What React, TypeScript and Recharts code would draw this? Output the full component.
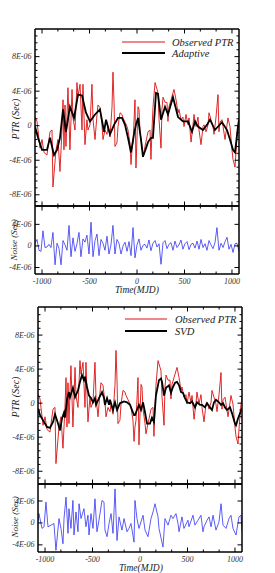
import React from 'react';
import { LineChart, Line, XAxis, YAxis } from 'recharts';

// ---------- data (PTR values in units of 1E-06 s, time in MJD) ----------
const obsTime = [-1074,-1053,-1021,-1000,-979,-948,-916,-895,-885,-853,-832,-811,-790,-779,-769,-758,-748,-727,-706,-684,-674,-653,-632,-621,-600,-579,-569,-548,-527,-516,-495,-474,-463,-442,-421,-411,-390,-369,-358,-337,-316,-305,-284,-263,-253,-242,-232,-211,-200,-179,-158,-147,-126,-105,-95,-74,-63,-53,-42,-21,-11,11,21,32,53,63,84,105,116,137,147,158,168,190,211,221,232,253,263,274,295,316,326,337,358,379,390,411,432,442,463,484,495,516,537,548,569,590,600,621,642,653,674,695,706,727,748,758,779,800,811,832,853,863,874,895,906,927,948,958,979,1000,1011,1032,1053,1063,1074];
const obsPtr = [1.0,0.5,-2.6,-1.6,-3.1,-3.4,-0.7,-0.5,-7.1,-2.8,-1.6,-5.3,-0.5,3.0,-2.8,2.4,-2.4,4.4,-2.8,4.2,0.9,-0.5,5.0,3.4,4.8,-0.5,4.8,-2.2,0.7,-0.5,0.1,4.8,0.7,-1.6,1.3,2.4,2.1,0.1,-1.6,-0.5,-1.0,-0.1,-1.3,2.2,6.2,2.7,-2.4,-2.0,-0.1,1.5,1.3,0.9,0.4,-0.1,-0.5,-2.0,-4.5,-2.8,-2.0,3.0,-4.9,2.2,1.9,-0.7,-2.4,-3.6,-2.4,-1.3,-0.7,-0.5,-3.9,-0.5,2.1,5.0,4.2,3.8,0.7,-2.6,1.9,3.3,2.7,2.7,0.5,2.2,3.0,3.8,4.2,3.0,1.5,1.9,0.7,1.0,-0.1,1.3,0.1,0.9,-1.9,0.1,1.3,-0.1,1.0,-0.5,-2.2,-0.1,0.1,-0.7,0.1,1.5,0.7,-0.1,-1.0,1.0,3.6,-0.7,0.4,0.7,-0.1,-1.6,0.1,0.9,-0.1,-2.8,-3.9,-4.8,-1.3,-0.2,0.7];

const adaptiveTime = [-1074,-1042,-1000,-948,-916,-874,-842,-811,-779,-748,-706,-663,-621,-579,-537,-495,-442,-390,-347,-326,-284,-242,-200,-158,-126,-95,-63,-32,-11,11,42,63,95,116,147,168,200,221,253,295,326,379,432,484,537,579,611,642,695,737,769,821,895,948,979,1011,1032,1063,1074];
const adaptivePtr = [-0.1,-1.4,-2.8,-2.8,-1.4,-3.4,-2.8,-1.4,1.9,-0.7,2.2,0.9,3.6,3.5,1.5,0.5,1.3,1.9,-0.7,0.7,-1.0,0.1,0.9,0.9,0.1,-1.4,-3.1,-1.0,0.1,0.9,-1.6,-3.6,-2.6,-1.9,-1.4,-1.4,3.8,3.7,0.7,2.2,1.3,3.3,1.0,0.5,0.5,-0.7,0.5,-0.1,-0.5,0.1,0.7,-0.5,0.4,-0.5,-1.6,-2.8,-3.1,-0.1,0.7];

const svdTime = [-1074,-1053,-1011,-979,-948,-916,-895,-863,-842,-821,-800,-790,-769,-748,-737,-706,-684,-653,-632,-611,-590,-579,-558,-537,-516,-495,-474,-463,-432,-400,-379,-369,-347,-326,-316,-284,-263,-242,-211,-190,-168,-137,-105,-84,-63,-53,-32,-11,11,32,53,74,105,126,147,168,200,221,232,253,274,305,326,347,369,390,411,432,453,474,495,526,548,579,600,632,653,684,706,737,758,779,800,832,853,874,895,916,948,969,1000,1011,1032,1053,1074];
const svdPtr = [-0.6,-1.4,-2.2,-2.8,-2.9,-2.2,-1.3,-2.4,-3.2,-1.8,-1.1,-1.7,0.4,1.3,0.7,1.8,0.7,1.5,2.5,3.3,2.7,3.1,1.9,0.9,0.6,0.1,0.6,-0.2,0.6,1.3,0.6,-0.2,0.6,-0.2,0.4,-0.8,0.1,-0.8,0.0,0.1,0.2,0.1,-0.2,-0.8,-1.4,-1.4,-0.8,-0.2,-0.8,0.1,-1.1,-2.4,-2.4,-1.7,-2.2,0.9,2.7,2.9,2.5,0.9,1.8,2.1,1.2,1.9,2.4,2.5,2.1,1.3,1.2,0.6,0.1,0.0,0.2,-0.5,0.1,-0.2,-0.2,-0.5,0.0,-0.5,-0.8,0.1,0.4,0.1,-0.2,0.0,-0.5,-0.8,-0.5,-1.2,-2.4,-2.6,-1.8,-1.2,-0.6];

const noise1Time = [-1074,-1053,-1032,-1011,-990,-969,-948,-927,-906,-885,-863,-842,-821,-800,-779,-758,-737,-716,-695,-674,-653,-632,-611,-590,-569,-548,-527,-505,-484,-463,-442,-421,-400,-379,-358,-337,-316,-295,-274,-253,-232,-211,-190,-168,-147,-126,-105,-84,-63,-42,-21,0,21,42,63,84,105,126,147,168,190,211,232,253,274,295,316,337,358,379,400,421,442,463,484,505,527,548,569,590,611,632,653,674,695,716,737,758,779,800,821,842,863,885,906,927,948,969,990,1011,1032,1053,1074];
const noise1Val = [0.5,1.2,-0.8,-1.0,2.8,-0.3,-0.2,0.3,-0.3,2.5,-3.5,0.5,-0.5,-3.5,1.0,0.2,-0.8,3.8,-2.0,1.5,-1.0,0.4,2.5,-2.0,1.3,0.7,2.0,-1.5,4.4,-2.0,1.0,2.2,-1.8,1.2,0.5,-0.8,1.8,-1.5,0.2,3.8,-1.5,1.2,0.5,-1.5,0.0,0.7,-1.0,0.8,-1.8,3.4,-2.2,0.2,1.3,-0.8,0.1,0.3,-0.4,1.1,-0.9,0.5,1.0,-0.2,0.4,-3.4,0.6,1.0,-0.5,0.3,0.6,-0.8,0.9,-0.3,0.2,1.1,-0.6,0.4,0.8,-0.7,0.3,0.5,-0.4,0.9,-0.6,1.2,-0.3,0.4,-0.8,1.0,0.2,-0.5,0.6,3.4,-0.8,0.5,-0.3,0.8,1.6,-0.6,0.3,-1.2,0.4,0.5,-1.0];

const noise2Time = [-1074,-1064,-1032,-1011,-990,-969,-937,-906,-885,-853,-832,-811,-800,-779,-758,-748,-727,-706,-695,-674,-653,-642,-621,-590,-569,-548,-537,-516,-495,-474,-453,-432,-400,-379,-369,-347,-326,-305,-284,-263,-242,-221,-190,-168,-137,-116,-95,-63,-53,-32,-11,32,53,84,116,137,158,190,200,242,263,295,326,347,379,400,411,442,463,505,516,558,579,611,642,663,674,706,727,748,769,800,832,853,874,906,937,958,979,1011,1042,1063,1074];
const noise2Val = [0.4,1.7,-1.0,-0.7,3.8,-0.7,-0.4,-0.1,-5.0,0.8,-1.0,-3.8,0.8,4.7,-1.9,2.6,-1.0,4.1,-2.2,2.0,-1.6,3.5,0.8,2.6,-0.7,1.4,-2.2,1.7,-1.0,4.4,-1.6,0.5,4.1,3.8,-1.3,-2.5,-0.1,1.7,-1.9,6.2,-3.2,1.1,-1.3,0.8,-1.6,-1.0,-0.1,-3.5,4.1,0.8,-1.0,1.4,-1.3,-2.5,0.8,2.0,3.5,1.1,-1.0,-4.4,0.8,-0.4,1.4,0.8,1.7,-0.1,-1.6,1.1,-1.0,0.5,-0.7,1.4,-0.4,0.5,1.4,-1.6,-0.7,0.5,1.1,-0.7,1.4,-1.3,0.2,3.5,-0.4,-1.0,0.8,1.4,-1.0,-2.2,1.1,1.4,-1.6];

const xMajorTicks = [-1000, -500, 0, 500, 1000];
const xMinorTicks = [-833, -667, -333, -167, 167, 333, 667, 833];
const yMainMajorTicks = [-8, -4, 0, 4, 8];
const yMainMinorTicks = [-8.8, -7.2, -6.4, -5.6, -4.8, -3.2, -2.4, -1.6, -0.8, 0.8, 1.6, 2.4, 3.2, 4.8, 5.6, 6.4, 7.2, 8.8, 9.6, 10.4];
const yNoiseTicks = [-4, 0, 4];

// ---------- helpers ----------
const W = 275;
const X_DOMAIN: [number, number] = [-1074, 1074];
const SERIF = '"Liberation Serif", "DejaVu Serif", serif';
const RED = '#dd1010';
const BLUE = '#3434f4';

const pairs = (t: number[], v: number[]) => t.map((tt, i) => ({ t: tt, v: v[i] }));
const obsData = pairs(obsTime, obsPtr);
const adaptiveData = pairs(adaptiveTime, adaptivePtr);
const svdData = pairs(svdTime, svdPtr);
const noise1Data = pairs(noise1Time, noise1Val);
const noise2Data = pairs(noise2Time, noise2Val);

const fmtY = (v: number) => (v === 0 ? '0' : `${v < 0 ? '-' : ''}${Math.abs(v)}E-06`);
const isMajorX = (v: number) => xMajorTicks.includes(v);
const isMajorY = (v: number) => Math.abs(v - Math.round(v / 4) * 4) < 1e-6;

const XTickShape = (props: any) => {
  const { x, y, payload, side, showLabel } = props;
  const v = payload.value;
  const major = isMajorX(v);
  const len = major ? 4.5 : 2.5;
  const dir = side === 'bottom' ? -1 : 1;
  return (
    <g>
      <line x1={x} x2={x} y1={y} y2={y + dir * len} stroke="#000" strokeWidth={1} />
      {showLabel && major && (
        <text x={x} y={y + 10} textAnchor="middle" fontFamily={SERIF} fontStyle="italic" fontSize={8} fill="#333">
          {v}
        </text>
      )}
    </g>
  );
};

const YTickShape = (props: any) => {
  const { x, y, payload, side, showLabel } = props;
  const v = payload.value;
  const major = isMajorY(v);
  const len = major ? 4.5 : 2.5;
  const dir = side === 'left' ? 1 : -1;
  return (
    <g>
      <line x1={x} x2={x + dir * len} y1={y} y2={y} stroke="#000" strokeWidth={1} />
      {showLabel && major && (
        <text x={x - 3.5} y={y} textAnchor="end" dominantBaseline="central" fontFamily={SERIF} fontStyle="italic" fontSize={8} fill="#333">
          {fmtY(v)}
        </text>
      )}
    </g>
  );
};

type Series = { data: { t: number; v: number }[]; color: string; width: number };

function Panel(props: {
  plotTop: number; plotBottom: number; plotLeft: number; plotRight: number;
  yDomain: [number, number]; yTicks: number[]; xLabels: boolean; series: Series[];
}) {
  const { plotTop, plotBottom, plotLeft, plotRight, yDomain, yTicks, xLabels, series } = props;
  const padTop = 8;
  const padBottom = 22;
  const height = plotBottom - plotTop + padTop + padBottom;
  const axisLine = { stroke: '#000', strokeWidth: 1.5 };
  const xTicks = [...xMajorTicks, ...xMinorTicks].sort((a, b) => a - b);
  return (
    <div style={{ position: 'absolute', left: 0, top: plotTop - padTop, width: W, height }}>
      <LineChart width={W} height={height}
        margin={{ top: padTop - 1, bottom: padBottom - 1, left: plotLeft - 1, right: W - plotRight - 1 }}>
        <XAxis xAxisId="b" type="number" dataKey="t" domain={X_DOMAIN} allowDataOverflow ticks={xTicks} interval={0}
          height={1} tickSize={0} tickMargin={0} axisLine={axisLine} tickLine={false}
          tick={(p: any) => <XTickShape {...p} side="bottom" showLabel={xLabels} />} />
        <XAxis xAxisId="t" orientation="top" type="number" dataKey="t" domain={X_DOMAIN} allowDataOverflow ticks={xTicks} interval={0}
          height={1} tickSize={0} tickMargin={0} axisLine={axisLine} tickLine={false}
          tick={(p: any) => <XTickShape {...p} side="top" showLabel={false} />} />
        <YAxis yAxisId="l" type="number" domain={yDomain} allowDataOverflow ticks={yTicks} interval={0}
          width={1} tickSize={0} tickMargin={0} axisLine={axisLine} tickLine={false}
          tick={(p: any) => <YTickShape {...p} side="left" showLabel />} />
        <YAxis yAxisId="r" orientation="right" type="number" domain={yDomain} allowDataOverflow ticks={yTicks} interval={0}
          width={1} tickSize={0} tickMargin={0} axisLine={axisLine} tickLine={false}
          tick={(p: any) => <YTickShape {...p} side="right" showLabel={false} />} />
        {series.map((s, i) => (
          <Line key={i} xAxisId="b" yAxisId="l" data={s.data} dataKey="v" type="linear" stroke={s.color}
            strokeWidth={s.width} dot={false} activeDot={false} isAnimationActive={false} />
        ))}
      </LineChart>
    </div>
  );
}

const mainTicks = [...yMainMajorTicks, ...yMainMinorTicks].sort((a, b) => a - b);

export default function App() {
  const txt = { fontFamily: SERIF, fontStyle: 'italic' as const, fill: '#222' };
  return (
    <div style={{ position: 'absolute', left: 0, top: 0, width: W, height: 573, background: '#fff' }}>
      {/* Chart 1: Adaptive */}
      <Panel plotTop={29} plotBottom={206} plotLeft={35} plotRight={239} yDomain={[-9.3, 11.2]} yTicks={mainTicks}
        xLabels={false}
        series={[{ data: obsData, color: RED, width: 0.9 }, { data: adaptiveData, color: '#000', width: 1.8 }]} />
      <Panel plotTop={206} plotBottom={274} plotLeft={35} plotRight={239} yDomain={[-5.2, 7.4]} yTicks={yNoiseTicks}
        xLabels series={[{ data: noise1Data, color: BLUE, width: 0.8 }]} />

      {/* Chart 2: SVD */}
      <Panel plotTop={307} plotBottom={484} plotLeft={38} plotRight={242} yDomain={[-9.5, 11.3]} yTicks={mainTicks}
        xLabels={false}
        series={[{ data: obsData, color: RED, width: 0.9 }, { data: svdData, color: '#000', width: 1.8 }]} />
      <Panel plotTop={484} plotBottom={552} plotLeft={38} plotRight={242} yDomain={[-5.3, 7.1]} yTicks={yNoiseTicks}
        xLabels series={[{ data: noise2Data, color: BLUE, width: 0.8 }]} />

      <svg width={W} height={573} style={{ position: 'absolute', left: 0, top: 0, pointerEvents: 'none' }}>
        {/* legend 1 */}
        <line x1={122} x2={165} y1={42} y2={42} stroke={RED} strokeWidth={1.2} />
        <text x={172} y={42} dominantBaseline="central" fontSize={10.5} {...txt}>Observed PTR</text>
        <line x1={122} x2={165} y1={53} y2={53} stroke="#000" strokeWidth={2} />
        <text x={172} y={53} dominantBaseline="central" fontSize={10.5} {...txt}>Adaptive</text>
        {/* legend 2 */}
        <line x1={125} x2={167} y1={319} y2={319} stroke={RED} strokeWidth={1.2} />
        <text x={175} y={319} dominantBaseline="central" fontSize={10.5} {...txt}>Observed PTR</text>
        <line x1={125} x2={167} y1={331} y2={331} stroke="#000" strokeWidth={2} />
        <text x={175} y={331} dominantBaseline="central" fontSize={10.5} {...txt}>SVD</text>

        {/* axis titles */}
        <text transform="translate(15,119) rotate(-90)" textAnchor="middle" dominantBaseline="central" fontSize={10} {...txt}>PTR (Sec)</text>
        <text transform="translate(13.5,240) rotate(-90)" textAnchor="middle" dominantBaseline="central" fontSize={9} {...txt}>Noise (Sec)</text>
        <text x={137} y={290} textAnchor="middle" dominantBaseline="central" fontSize={9.5} {...txt}>Time(MJD)</text>

        <text transform="translate(15.5,397) rotate(-90)" textAnchor="middle" dominantBaseline="central" fontSize={10} {...txt}>PTR (Sec)</text>
        <text transform="translate(15,517) rotate(-90)" textAnchor="middle" dominantBaseline="central" fontSize={9} {...txt}>Noise (Sec)</text>
        <text x={141} y={568} textAnchor="middle" dominantBaseline="central" fontSize={9.5} {...txt}>Time(MJD)</text>
      </svg>
    </div>
  );
}
